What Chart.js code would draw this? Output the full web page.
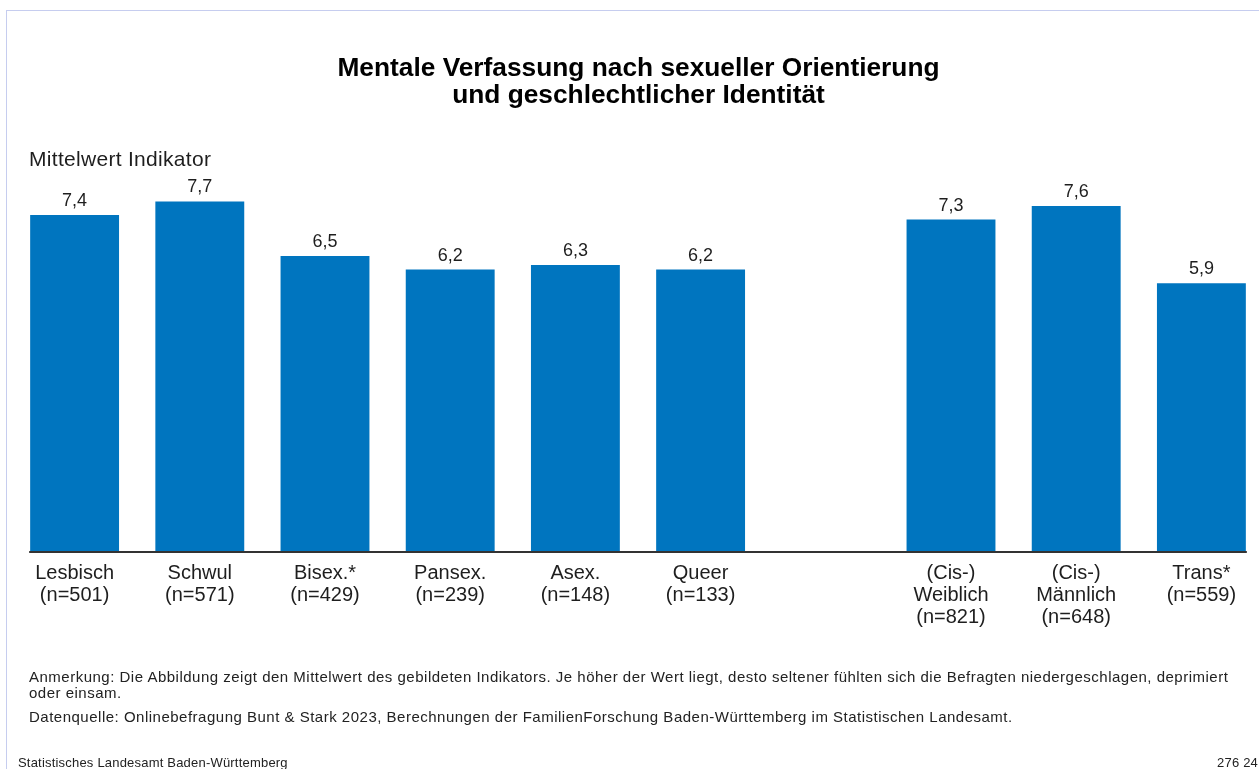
<!DOCTYPE html>
<html lang="de">
<head>
<meta charset="utf-8">
<title>Mentale Verfassung nach sexueller Orientierung und geschlechtlicher Identität</title>
<script src="https://cdn.jsdelivr.net/npm/chart.js@4/dist/chart.umd.min.js"></script>
<style>
  html, body { margin: 0; padding: 0; background: #fff; overflow: hidden; width: 1259px; height: 769px; }
  body { position: relative; font-family: "Liberation Sans", Arial, Helvetica, sans-serif; color: #1e1e1e; }
  .frame { position: absolute; left: 6px; top: 10px; width: 1300px; height: 800px; border: 1px solid #c6cdef; box-sizing: border-box; }
  #chart { position: absolute; left: 0; top: 0; }
  .title { position: absolute; left: 0; top: 54px; width: 1277px; text-align: center; font-weight: bold; font-size: 26.3px; line-height: 27px; color: #000; }
  .axis-title { position: absolute; left: 29px; top: 147px; font-size: 21px; letter-spacing: 0.3px; line-height: 24px; white-space: nowrap; }
  .note { position: absolute; left: 29px; font-size: 15px; letter-spacing: 0.5px; line-height: 16px; white-space: nowrap; color: #222; }
  .footer { position: absolute; top: 755px; font-size: 13px; letter-spacing: 0.2px; line-height: 15px; white-space: nowrap; color: #222; }
</style>
</head>
<body>
<div class="frame"></div>
<canvas id="chart" width="1280" height="769"></canvas>
<div class="title">Mentale Verfassung nach sexueller Orientierung<br>und geschlechtlicher Identität</div>
<div class="axis-title">Mittelwert Indikator</div>
<div class="note" style="top:669px">Anmerkung: Die Abbildung zeigt den Mittelwert des gebildeten Indikators. Je höher der Wert liegt, desto seltener fühlten sich die Befragten niedergeschlagen, deprimiert<br>oder einsam.</div>
<div class="note" style="top:709px">Datenquelle: Onlinebefragung Bunt &amp; Stark 2023, Berechnungen der FamilienForschung Baden-Württemberg im Statistischen Landesamt.</div>
<div class="footer" style="left:18px">Statistisches Landesamt Baden-Württemberg</div>
<div class="footer" style="right:1px">276 24</div>
<script>
// Groups (an empty slot separates orientation from gender identity)
const categories = [
  ['Lesbisch'], ['Schwul'], ['Bisex.*'], ['Pansex.'], ['Asex.'], ['Queer'],
  [],
  ['(Cis-)', 'Weiblich'], ['(Cis-)', 'Männlich'], ['Trans*']
];
const sampleSizes = [501, 571, 429, 239, 148, 133, null, 821, 648, 559];
const meanValues = [7.4, 7.7, 6.5, 6.2, 6.3, 6.2, null, 7.3, 7.6, 5.9];

const labels = categories.map((lines, i) =>
  sampleSizes[i] == null ? '' : [...lines, '(n=' + sampleSizes[i] + ')']
);

const fmt = v => v.toFixed(1).replace('.', ',');

// Value labels above the bars and the baseline under them
const barDecor = {
  id: 'barDecor',
  afterDatasetsDraw(chart) {
    const ctx = chart.ctx;
    const meta = chart.getDatasetMeta(0);
    const ds = chart.data.datasets[0];
    ctx.save();
    ctx.fillStyle = '#1e1e1e';
    ctx.font = '18px "Liberation Sans", Arial, sans-serif';
    ctx.textAlign = 'center';
    ctx.textBaseline = 'alphabetic';
    let first = null, last = null;
    meta.data.forEach((bar, i) => {
      const v = ds.data[i];
      if (v == null) return;
      ctx.fillText(fmt(v), bar.x, bar.y - 9);
      const l = bar.x - bar.width / 2, r = bar.x + bar.width / 2;
      if (first === null || l < first) first = l;
      if (last === null || r > last) last = r;
    });
    const y0 = chart.scales.y.getPixelForValue(0);
    ctx.strokeStyle = '#333';
    ctx.lineWidth = 2;
    ctx.beginPath();
    ctx.moveTo(first - 1, y0 + 1);
    ctx.lineTo(last + 1, y0 + 1);
    ctx.stroke();
    ctx.restore();
  }
};

new Chart(document.getElementById('chart'), {
  type: 'bar',
  data: {
    labels: labels,
    datasets: [{
      data: meanValues,
      backgroundColor: '#0075bf',
      borderWidth: 0,
      barPercentage: 0.71,
      categoryPercentage: 1.0
    }]
  },
  options: {
    responsive: false,
    animation: false,
    devicePixelRatio: 1,
    layout: { padding: { left: 12, right: 16, top: 97, bottom: 0 } },
    plugins: { legend: { display: false }, tooltip: { enabled: false }, title: { display: false } },
    scales: {
      x: {
        grid: { display: false, drawTicks: false },
        border: { display: false },
        afterFit(scale) { scale.height = 218; },
        ticks: {
          autoSkip: false,
          maxRotation: 0,
          padding: 12,
          color: '#1e1e1e',
          font: { family: '"Liberation Sans", Arial, sans-serif', size: 20, lineHeight: 1.08 }
        }
      },
      y: {
        display: false,
        min: 0,
        max: 10
      }
    }
  },
  plugins: [barDecor]
});
</script>
</body>
</html>
